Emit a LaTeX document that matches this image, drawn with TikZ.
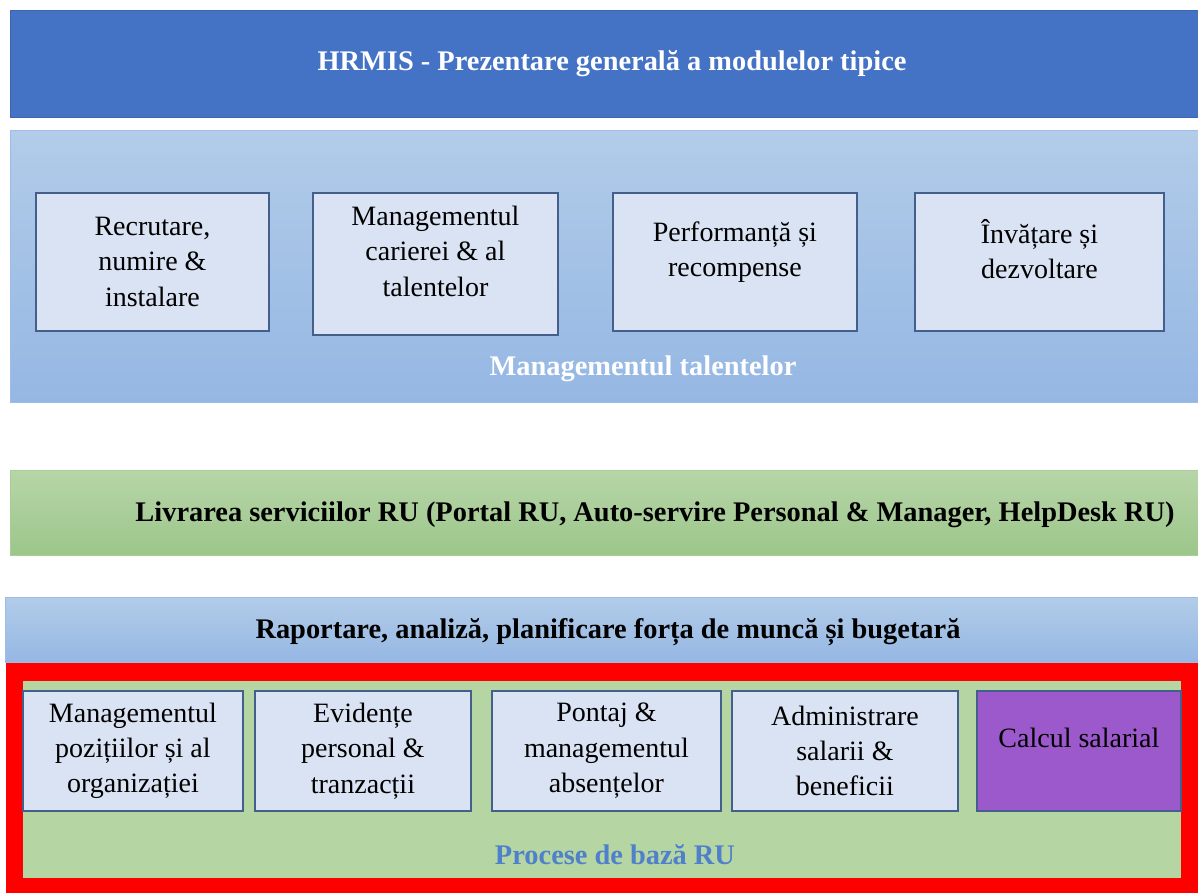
\documentclass[tikz,border=0pt]{standalone}
\usepackage{fontspec}
\setmainfont{Liberation Serif}
\definecolor{titleblue}{HTML}{4472C4}
\definecolor{titleedge}{HTML}{3E66AE}
\definecolor{paneltop}{HTML}{B2CCE9}
\definecolor{panelbot}{HTML}{95B7E3}
\definecolor{paneledge}{HTML}{9DBDE6}
\definecolor{cardfill}{HTML}{DAE3F3}
\definecolor{cardedge}{HTML}{445F8C}
\definecolor{greentop}{HTML}{B7D5A8}
\definecolor{greenbot}{HTML}{9CC68A}
\definecolor{greenedge}{HTML}{A8CE96}
\definecolor{innergreen}{HTML}{B5D5A2}
\definecolor{framered}{HTML}{FF0000}
\definecolor{purplebox}{HTML}{9C59CB}
\definecolor{procblue}{HTML}{4F80CC}
\tikzset{
  band/.style={anchor=north west, inner sep=0pt, line width=0.8pt},
  card/.style={anchor=north west, draw=cardedge, fill=cardfill, line width=1.4pt,
    inner sep=2pt, align=center, font=\fontsize{21}{26.5}\selectfont},
  boldlbl/.style={font=\fontsize{21.3}{25}\selectfont\bfseries, inner sep=0pt},
}
\begin{document}
\begin{tikzpicture}[x=0.75pt,y=-0.75pt]
\useasboundingbox (0,0) rectangle (1198,892);
\fill[white] (0,0) rectangle (1198,892);
% title
\node[band, draw=titleedge, fill=titleblue, minimum width=1188*0.75pt, minimum height=107*0.75pt] (title) at (10,10) {};
\node[boldlbl, text=white] (titletxt) at (612,64) {HRMIS - Prezentare generală a modulelor tipice};
% talent management panel
\node[band, draw=paneledge, top color=paneltop, bottom color=panelbot, minimum width=1188*0.75pt, minimum height=272*0.75pt] (talent) at (10,130) {};
\node[card, minimum width=233*0.75pt, minimum height=138*0.75pt] (c1) at (35,192) {Recrutare,\\numire \&\\instalare};
\node[card, minimum width=245*0.75pt, minimum height=142*0.75pt, text depth=19pt] (c2) at (312,192) {Managementul\\carierei \& al\\talentelor};
\node[card, minimum width=244*0.75pt, minimum height=138*0.75pt, text depth=19pt] (c3) at (612,192) {Performanță și\\recompense};
\node[card, minimum width=249*0.75pt, minimum height=138*0.75pt, text depth=19pt] (c4) at (914,192) {Învățare și\\dezvoltare};
\node[boldlbl, text=white] (talenttxt) at (643,369) {Managementul talentelor};
% service delivery
\node[band, draw=greenedge, top color=greentop, bottom color=greenbot, minimum width=1188*0.75pt, minimum height=85*0.75pt] (service) at (10,470) {};
\node[boldlbl] (servicetxt) at (655,515) {Livrarea serviciilor RU (Portal RU, Auto-servire Personal \& Manager, HelpDesk RU)};
% reporting
\node[band, draw=paneledge, top color=paneltop, bottom color=panelbot, minimum width=1193*0.75pt, minimum height=65*0.75pt] (report) at (5,597) {};
\node[boldlbl] (reporttxt) at (608,632) {Raportare, analiză, planificare forța de muncă și bugetară};
% core processes frame
\node[band, fill=framered, minimum width=1193*0.75pt, minimum height=230*0.75pt] (frame) at (5,662) {};
\node[band, fill=innergreen, minimum width=1158*0.75pt, minimum height=197*0.75pt] (core) at (22,680) {};
\node[card, minimum width=220*0.75pt, minimum height=120*0.75pt] (p1) at (22,690) {Managementul\\pozițiilor și al\\organizației};
\node[card, minimum width=216*0.75pt, minimum height=120*0.75pt] (p2) at (254,690) {Evidențe\\personal \&\\tranzacții};
\node[card, minimum width=229*0.75pt, minimum height=120*0.75pt] (p3) at (491,690) {Pontaj \&\\managementul\\absențelor};
\node[card, minimum width=226*0.75pt, minimum height=120*0.75pt] (p4) at (731,690) {Administrare\\salarii \&\\beneficii};
\node[card, fill=purplebox, minimum width=204*0.75pt, minimum height=120*0.75pt, text depth=19pt] (p5) at (976,690) {Calcul salarial};
\node[boldlbl, text=procblue] (coretxt) at (615,855) {Procese de bază RU};
\end{tikzpicture}
\end{document}
